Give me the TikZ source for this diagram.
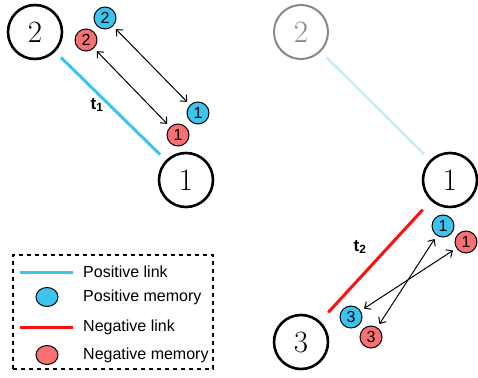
\documentclass[tikz,border=0pt]{standalone}
\usepackage{fontspec}
\newfontfamily\lab{Liberation Sans}
\usetikzlibrary{arrows.meta,shapes.geometric}
\definecolor{pblue}{HTML}{3BC4EE}
\definecolor{nred}{HTML}{F77172}
\definecolor{lred}{HTML}{FF1010}
\definecolor{fblue}{HTML}{C6ECF7}
\definecolor{fgray}{HTML}{888888}
\begin{document}
\begin{tikzpicture}[x=1pt,y=-1pt,
  big/.style={circle,draw,line width=2.6pt,minimum size=54pt,inner sep=0pt,font=\fontsize{31}{31}\selectfont},
  mem/.style={circle,draw,line width=1pt,minimum size=22pt,inner sep=0pt,font=\lab\fontsize{16}{16}\selectfont},
  pm/.style={mem,fill=pblue},
  nm/.style={mem,fill=nred},
  dbl/.style={{Straight Barb[length=5pt,width=9pt]}-{Straight Barb[length=5pt,width=9pt]},line width=1pt,shorten <=4pt,shorten >=4pt},
  lnk/.style={line width=3pt},
  tl/.style={font=\lab\bfseries\fontsize{17}{17}\selectfont},
  leg/.style={anchor=west,inner sep=0pt,font=\lab\fontsize{16}{16}\selectfont},
  legell/.style={ellipse,draw,line width=1pt,minimum width=22pt,minimum height=19pt,inner sep=0pt}
]
\useasboundingbox (0,0) rectangle (478,377);

% ---- left scene ----
\node[big] (n2) at (35,32) {2};
\node[big] (n1) at (186,180) {1};
\node[pm] (b2) at (105,18) {2};
\node[nm] (r2) at (86,40) {2};
\node[pm] (b1) at (198,113) {1};
\node[nm] (r1) at (178,135) {1};
\draw[lnk,pblue,shorten <=8pt,shorten >=8pt] (n2) -- (n1);
\node[tl] (t1) at (97,105) {t\textsubscript{1}};
\draw[dbl] (b2) -- (b1);
\draw[dbl] (r2) -- (r1);

% ---- right scene ----
\node[big,draw=fgray,text=fgray,line width=2pt] (g2) at (301,32) {2};
\node[big] (m1) at (450,180) {1};
\node[big] (m3) at (301,342) {3};
\draw[line width=2.5pt,fblue,shorten <=8pt,shorten >=8pt] (g2) -- (m1);
\draw[lnk,lred,shorten <=12pt,shorten >=12pt] (m3) -- (m1);
\node[tl] (t2) at (360,247) {t\textsubscript{2}};
\node[pm] (bb1) at (443,226) {1};
\node[nm] (rr1) at (466,242) {1};
\node[pm] (bb3) at (351,317) {3};
\node[nm] (rr3) at (371,337) {3};
\draw[dbl] (rr3) -- (bb1);
\draw[dbl] (bb3) -- (rr1);

% ---- legend ----
\node[draw,dashed,line width=1.6pt,dash pattern=on 4pt off 4pt,minimum width=200pt,minimum height=114pt,inner sep=0pt] (box) at (113,312) {};
\coordinate (pl1) at (20,272); \coordinate (pl2) at (73,272);
\draw[lnk,pblue] (pl1) -- (pl2);
\node[leg] (tpl) at (83,272) {Positive link};
\node[legell,fill=pblue] (epm) at (47,297) {};
\node[leg] (tpm) at (83,297) {Positive memory};
\coordinate (nl1) at (20,327); \coordinate (nl2) at (73,327);
\draw[lnk,lred] (nl1) -- (nl2);
\node[leg] (tnl) at (83,327) {Negative link};
\node[legell,fill=nred] (enm) at (47,355) {};
\node[leg] (tnm) at (83,355) {Negative memory};
\end{tikzpicture}
\end{document}
